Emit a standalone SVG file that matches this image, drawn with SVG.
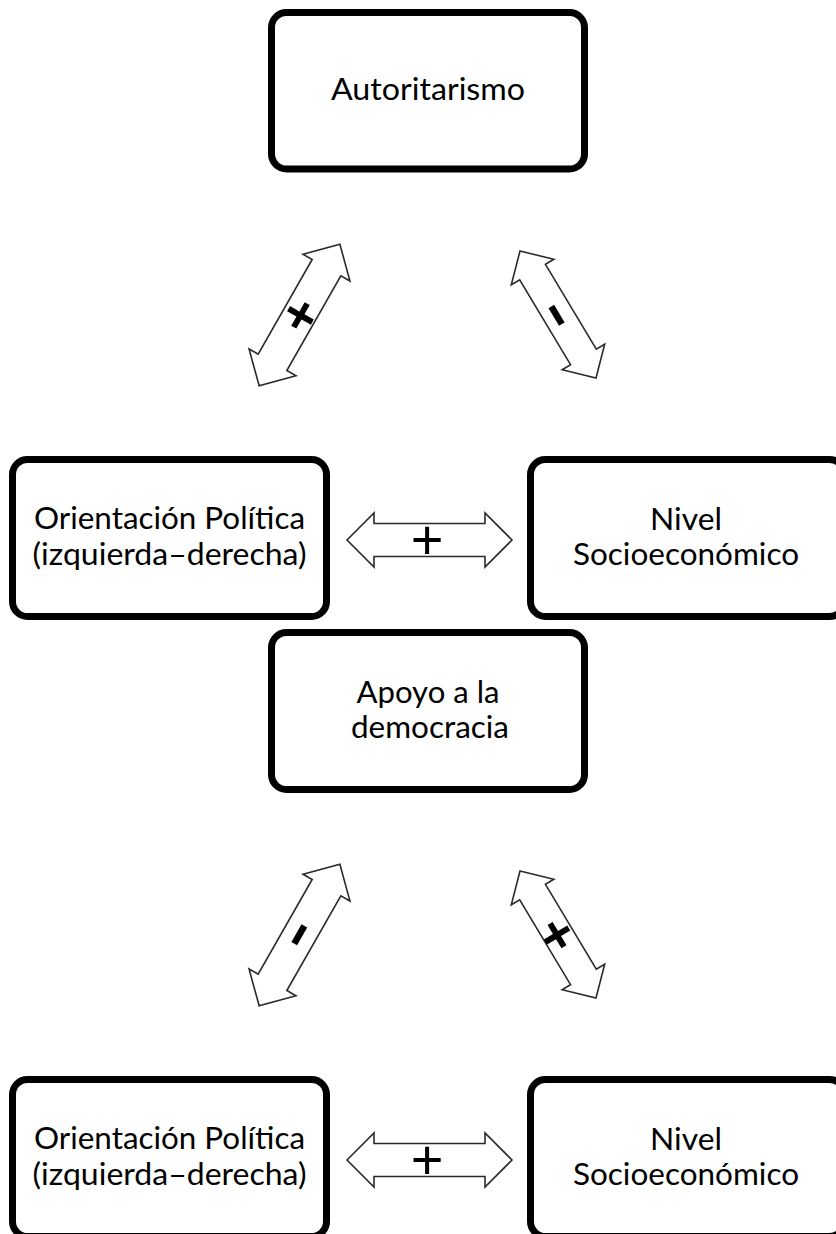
<svg xmlns="http://www.w3.org/2000/svg" xmlns:xlink="http://www.w3.org/1999/xlink" width="836" height="1234" viewBox="0 0 836 1234">
<style>
.box { fill:#fff; stroke:#000; stroke-width:7; }
.lbl { font-family:"Lato","Open Sans",sans-serif; font-size:31px; fill:#000; text-anchor:middle; }
.arr { fill:#fff; stroke:#2a2a2a; stroke-width:1.6; stroke-linejoin:miter; }
.sgn { font-family:"Liberation Sans",Arial,sans-serif; fill:#000; text-anchor:middle; }
.plus { font-size:56px; }
.plusb { font-size:54px; font-weight:bold; }
.minus { font-size:84px; }
</style>
<defs>
<path id="arrH" class="arr" d="M-82.5,0 L-55.5,-27 L-55.5,-16.5 L55.5,-16.5 L55.5,-27 L82.5,0 L55.5,27 L55.5,16.5 L-55.5,16.5 L-55.5,27 Z"/>
<path id="arrL" class="arr" d="M-81.5,0 L-54.5,-27 L-54.5,-16.5 L54.5,-16.5 L54.5,-27 L81.5,0 L54.5,27 L54.5,16.5 L-54.5,16.5 L-54.5,27 Z"/>
<path id="arrR" class="arr" d="M-74,0 L-49.5,-24.8 L-49.5,-15 L49.5,-15 L49.5,-24.8 L74,0 L49.5,24.8 L49.5,15 L-49.5,15 L-49.5,24.8 Z"/>
</defs>

<g id="connectors">
  <g id="c-top-left" transform="translate(299.5,315) rotate(-60.3)">
    <use xlink:href="#arrL"/>
    <text class="sgn plusb" x="0" y="19">+</text>
  </g>
  <g id="c-top-right" transform="translate(558,314.5) rotate(59.1)">
    <use xlink:href="#arrR"/>
    <text class="sgn minus" x="0" y="24">-</text>
  </g>
  <g id="c-mid-h" transform="translate(429.5,540)">
    <use xlink:href="#arrH"/>
    <text class="sgn plus" x="-2.5" y="19">+</text>
  </g>
  <g id="c-bot-left" transform="translate(299.5,935) rotate(-60.3)">
    <use xlink:href="#arrL"/>
    <text class="sgn minus" x="0" y="22">-</text>
  </g>
  <g id="c-bot-right" transform="translate(558,934.5) rotate(59.1)">
    <use xlink:href="#arrR"/>
    <text class="sgn plusb" x="0" y="19">+</text>
  </g>
  <g id="c-bot-h" transform="translate(429.5,1160)">
    <use xlink:href="#arrH"/>
    <text class="sgn plus" x="-2.5" y="19">+</text>
  </g>
</g>

<g id="n-autoritarismo">
  <rect class="box" x="271.5" y="12.5" width="313" height="156.5" rx="15"/>
  <text class="lbl" x="428" y="100" textLength="194" lengthAdjust="spacingAndGlyphs">Autoritarismo</text>
</g>

<g id="n-orientacion-1">
  <rect class="box" x="12.5" y="459.5" width="314" height="157" rx="15"/>
  <text class="lbl" x="169.5" y="529" textLength="271" lengthAdjust="spacingAndGlyphs">Orientación Política</text>
  <text class="lbl" x="169.5" y="565" textLength="274" lengthAdjust="spacingAndGlyphs">(izquierda–derecha)</text>
</g>

<g id="n-nivel-1">
  <rect class="box" x="530.5" y="459.5" width="314" height="157" rx="15"/>
  <text class="lbl" x="686" y="530" textLength="72" lengthAdjust="spacingAndGlyphs">Nivel</text>
  <text class="lbl" x="686" y="565" textLength="226" lengthAdjust="spacingAndGlyphs">Socioeconómico</text>
</g>

<g id="n-apoyo">
  <rect class="box" x="271.5" y="632.5" width="313" height="157" rx="15"/>
  <text class="lbl" x="428" y="703" textLength="143" lengthAdjust="spacingAndGlyphs">Apoyo a la</text>
  <text class="lbl" x="430" y="738" textLength="158" lengthAdjust="spacingAndGlyphs">democracia</text>
</g>

<g id="n-orientacion-2">
  <rect class="box" x="12.5" y="1079.5" width="314" height="157" rx="15"/>
  <text class="lbl" x="169.5" y="1149" textLength="271" lengthAdjust="spacingAndGlyphs">Orientación Política</text>
  <text class="lbl" x="169.5" y="1185" textLength="274" lengthAdjust="spacingAndGlyphs">(izquierda–derecha)</text>
</g>

<g id="n-nivel-2">
  <rect class="box" x="530.5" y="1079.5" width="314" height="157" rx="15"/>
  <text class="lbl" x="686" y="1150" textLength="72" lengthAdjust="spacingAndGlyphs">Nivel</text>
  <text class="lbl" x="686" y="1185" textLength="226" lengthAdjust="spacingAndGlyphs">Socioeconómico</text>
</g>
</svg>
